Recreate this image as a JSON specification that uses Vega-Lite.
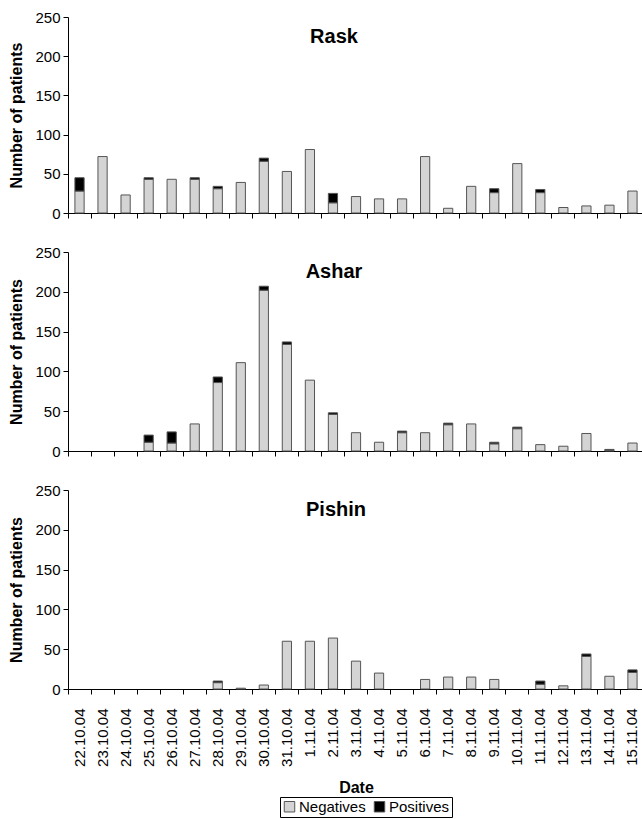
{
  "$schema": "https://vega.github.io/schema/vega-lite/v6.json",
  "padding": {"left": 8, "top": 10, "right": 0, "bottom": 0},
  "config": {
    "font": "Liberation Sans",
    "view": {"stroke": null},
    "axis": {"domainColor": "black", "tickColor": "black", "labelColor": "black", "titleColor": "black", "grid": false, "labelFontSize": 15, "titleFontSize": 16, "titleFontWeight": "bold", "tickSize": 5, "labelPadding": 3},
    "title": {"fontSize": 20, "fontWeight": "bold", "color": "black"},
    "concat": {"spacing": 24}
  },
  "datasets": {
    "cases": [
      {"site": "Rask", "date": "22.10.04", "Negatives": 28, "Positives": 17},
      {"site": "Rask", "date": "23.10.04", "Negatives": 72, "Positives": 0},
      {"site": "Rask", "date": "24.10.04", "Negatives": 23, "Positives": 0},
      {"site": "Rask", "date": "25.10.04", "Negatives": 43, "Positives": 2},
      {"site": "Rask", "date": "26.10.04", "Negatives": 43, "Positives": 0},
      {"site": "Rask", "date": "27.10.04", "Negatives": 43, "Positives": 2},
      {"site": "Rask", "date": "28.10.04", "Negatives": 31, "Positives": 3},
      {"site": "Rask", "date": "29.10.04", "Negatives": 39, "Positives": 0},
      {"site": "Rask", "date": "30.10.04", "Negatives": 66, "Positives": 4},
      {"site": "Rask", "date": "31.10.04", "Negatives": 53, "Positives": 0},
      {"site": "Rask", "date": "1.11.04", "Negatives": 81, "Positives": 0},
      {"site": "Rask", "date": "2.11.04", "Negatives": 13, "Positives": 12},
      {"site": "Rask", "date": "3.11.04", "Negatives": 21, "Positives": 0},
      {"site": "Rask", "date": "4.11.04", "Negatives": 18, "Positives": 0},
      {"site": "Rask", "date": "5.11.04", "Negatives": 18, "Positives": 0},
      {"site": "Rask", "date": "6.11.04", "Negatives": 72, "Positives": 0},
      {"site": "Rask", "date": "7.11.04", "Negatives": 6, "Positives": 0},
      {"site": "Rask", "date": "8.11.04", "Negatives": 34, "Positives": 0},
      {"site": "Rask", "date": "9.11.04", "Negatives": 26, "Positives": 5},
      {"site": "Rask", "date": "10.11.04", "Negatives": 63, "Positives": 0},
      {"site": "Rask", "date": "11.11.04", "Negatives": 26, "Positives": 4},
      {"site": "Rask", "date": "12.11.04", "Negatives": 7, "Positives": 0},
      {"site": "Rask", "date": "13.11.04", "Negatives": 9, "Positives": 0},
      {"site": "Rask", "date": "14.11.04", "Negatives": 10, "Positives": 0},
      {"site": "Rask", "date": "15.11.04", "Negatives": 28, "Positives": 0},
      {"site": "Ashar", "date": "25.10.04", "Negatives": 11, "Positives": 9},
      {"site": "Ashar", "date": "26.10.04", "Negatives": 10, "Positives": 14},
      {"site": "Ashar", "date": "27.10.04", "Negatives": 34, "Positives": 0},
      {"site": "Ashar", "date": "28.10.04", "Negatives": 86, "Positives": 7},
      {"site": "Ashar", "date": "29.10.04", "Negatives": 111, "Positives": 0},
      {"site": "Ashar", "date": "30.10.04", "Negatives": 202, "Positives": 5},
      {"site": "Ashar", "date": "31.10.04", "Negatives": 134, "Positives": 3},
      {"site": "Ashar", "date": "1.11.04", "Negatives": 89, "Positives": 0},
      {"site": "Ashar", "date": "2.11.04", "Negatives": 46, "Positives": 2},
      {"site": "Ashar", "date": "3.11.04", "Negatives": 23, "Positives": 0},
      {"site": "Ashar", "date": "4.11.04", "Negatives": 11, "Positives": 0},
      {"site": "Ashar", "date": "5.11.04", "Negatives": 23, "Positives": 2},
      {"site": "Ashar", "date": "6.11.04", "Negatives": 23, "Positives": 0},
      {"site": "Ashar", "date": "7.11.04", "Negatives": 33, "Positives": 2},
      {"site": "Ashar", "date": "8.11.04", "Negatives": 34, "Positives": 0},
      {"site": "Ashar", "date": "9.11.04", "Negatives": 9, "Positives": 2},
      {"site": "Ashar", "date": "10.11.04", "Negatives": 28, "Positives": 2},
      {"site": "Ashar", "date": "11.11.04", "Negatives": 8, "Positives": 0},
      {"site": "Ashar", "date": "12.11.04", "Negatives": 6, "Positives": 0},
      {"site": "Ashar", "date": "13.11.04", "Negatives": 22, "Positives": 0},
      {"site": "Ashar", "date": "14.11.04", "Negatives": 1, "Positives": 1},
      {"site": "Ashar", "date": "15.11.04", "Negatives": 10, "Positives": 0},
      {"site": "Pishin", "date": "28.10.04", "Negatives": 8, "Positives": 2},
      {"site": "Pishin", "date": "29.10.04", "Negatives": 1, "Positives": 0},
      {"site": "Pishin", "date": "30.10.04", "Negatives": 5, "Positives": 0},
      {"site": "Pishin", "date": "31.10.04", "Negatives": 60, "Positives": 0},
      {"site": "Pishin", "date": "1.11.04", "Negatives": 60, "Positives": 0},
      {"site": "Pishin", "date": "2.11.04", "Negatives": 64, "Positives": 0},
      {"site": "Pishin", "date": "3.11.04", "Negatives": 35, "Positives": 0},
      {"site": "Pishin", "date": "4.11.04", "Negatives": 20, "Positives": 0},
      {"site": "Pishin", "date": "6.11.04", "Negatives": 12, "Positives": 0},
      {"site": "Pishin", "date": "7.11.04", "Negatives": 15, "Positives": 0},
      {"site": "Pishin", "date": "8.11.04", "Negatives": 15, "Positives": 0},
      {"site": "Pishin", "date": "9.11.04", "Negatives": 12, "Positives": 0},
      {"site": "Pishin", "date": "11.11.04", "Negatives": 6, "Positives": 4},
      {"site": "Pishin", "date": "12.11.04", "Negatives": 4, "Positives": 0},
      {"site": "Pishin", "date": "13.11.04", "Negatives": 41, "Positives": 3},
      {"site": "Pishin", "date": "14.11.04", "Negatives": 16, "Positives": 0},
      {"site": "Pishin", "date": "15.11.04", "Negatives": 21, "Positives": 3}
    ]
  },
  "data": {"name": "cases"},
  "vconcat": [
    {
      "title": {"text": "Rask", "offset": -53, "baseline": "alphabetic", "dx": -22},
      "width": 576, "height": 196,
      "transform": [{"filter": "datum.site == 'Rask'"}, {"fold": ["Negatives", "Positives"], "as": ["result", "n"]}, {"filter": "datum.n > 0"}],
      "mark": {"type": "bar", "width": {"band": 0.4}, "stroke": "#555555", "strokeWidth": 1},
      "encoding": {
        "x": {"field": "date", "type": "ordinal", "scale": {"domain": ["22.10.04","23.10.04","24.10.04","25.10.04","26.10.04","27.10.04","28.10.04","29.10.04","30.10.04","31.10.04","1.11.04","2.11.04","3.11.04","4.11.04","5.11.04","6.11.04","7.11.04","8.11.04","9.11.04","10.11.04","11.11.04","12.11.04","13.11.04","14.11.04","15.11.04"], "paddingInner": 0, "paddingOuter": 0}, "axis": {"labels": false, "title": null, "bandPosition": 0}},
        "y": {"field": "n", "type": "quantitative", "stack": "zero", "scale": {"domain": [0, 250]}, "axis": {"values": [0, 50, 100, 150, 200, 250], "title": "Number of patients", "titlePadding": 10}},
        "color": {"field": "result", "type": "nominal", "scale": {"domain": ["Negatives", "Positives"], "range": ["#d4d4d4", "#000000"]}, "legend": {"title": null, "orient": "none", "legendX": 212, "legendY": 780, "direction": "horizontal", "symbolType": "square", "symbolSize": 110, "symbolStrokeColor": "#333333", "symbolStrokeWidth": 1, "labelFontSize": 15, "labelColor": "black", "strokeColor": "black", "padding": 2, "columnPadding": 6, "labelOffset": 2}},
        "order": {"field": "result", "sort": "ascending"}
      }
    },
    {
      "title": {"text": "Ashar", "offset": -53, "baseline": "alphabetic", "dx": -22},
      "width": 576, "height": 199,
      "transform": [{"filter": "datum.site == 'Ashar'"}, {"fold": ["Negatives", "Positives"], "as": ["result", "n"]}, {"filter": "datum.n > 0"}],
      "mark": {"type": "bar", "width": {"band": 0.4}, "stroke": "#555555", "strokeWidth": 1},
      "encoding": {
        "x": {"field": "date", "type": "ordinal", "scale": {"domain": ["22.10.04","23.10.04","24.10.04","25.10.04","26.10.04","27.10.04","28.10.04","29.10.04","30.10.04","31.10.04","1.11.04","2.11.04","3.11.04","4.11.04","5.11.04","6.11.04","7.11.04","8.11.04","9.11.04","10.11.04","11.11.04","12.11.04","13.11.04","14.11.04","15.11.04"], "paddingInner": 0, "paddingOuter": 0}, "axis": {"labels": false, "title": null, "bandPosition": 0}},
        "y": {"field": "n", "type": "quantitative", "stack": "zero", "scale": {"domain": [0, 250]}, "axis": {"values": [0, 50, 100, 150, 200, 250], "title": "Number of patients", "titlePadding": 10}},
        "color": {"field": "result", "type": "nominal", "scale": {"domain": ["Negatives", "Positives"], "range": ["#d4d4d4", "#000000"]}},
        "order": {"field": "result", "sort": "ascending"}
      }
    },
    {
      "title": {"text": "Pishin", "offset": -53, "baseline": "alphabetic", "dx": -20},
      "width": 576, "height": 199,
      "transform": [{"filter": "datum.site == 'Pishin'"}, {"fold": ["Negatives", "Positives"], "as": ["result", "n"]}, {"filter": "datum.n > 0"}],
      "mark": {"type": "bar", "width": {"band": 0.4}, "stroke": "#555555", "strokeWidth": 1},
      "encoding": {
        "x": {"field": "date", "type": "ordinal", "scale": {"domain": ["22.10.04","23.10.04","24.10.04","25.10.04","26.10.04","27.10.04","28.10.04","29.10.04","30.10.04","31.10.04","1.11.04","2.11.04","3.11.04","4.11.04","5.11.04","6.11.04","7.11.04","8.11.04","9.11.04","10.11.04","11.11.04","12.11.04","13.11.04","14.11.04","15.11.04"], "paddingInner": 0, "paddingOuter": 0}, "axis": {"title": "Date", "labelAngle": -90, "labelAlign": "right", "labelBaseline": "middle", "labelPadding": 14, "titlePadding": 13, "bandPosition": 0}},
        "y": {"field": "n", "type": "quantitative", "stack": "zero", "scale": {"domain": [0, 250]}, "axis": {"values": [0, 50, 100, 150, 200, 250], "title": "Number of patients", "titlePadding": 10}},
        "color": {"field": "result", "type": "nominal", "scale": {"domain": ["Negatives", "Positives"], "range": ["#d4d4d4", "#000000"]}},
        "order": {"field": "result", "sort": "ascending"}
      }
    }
  ]
}
